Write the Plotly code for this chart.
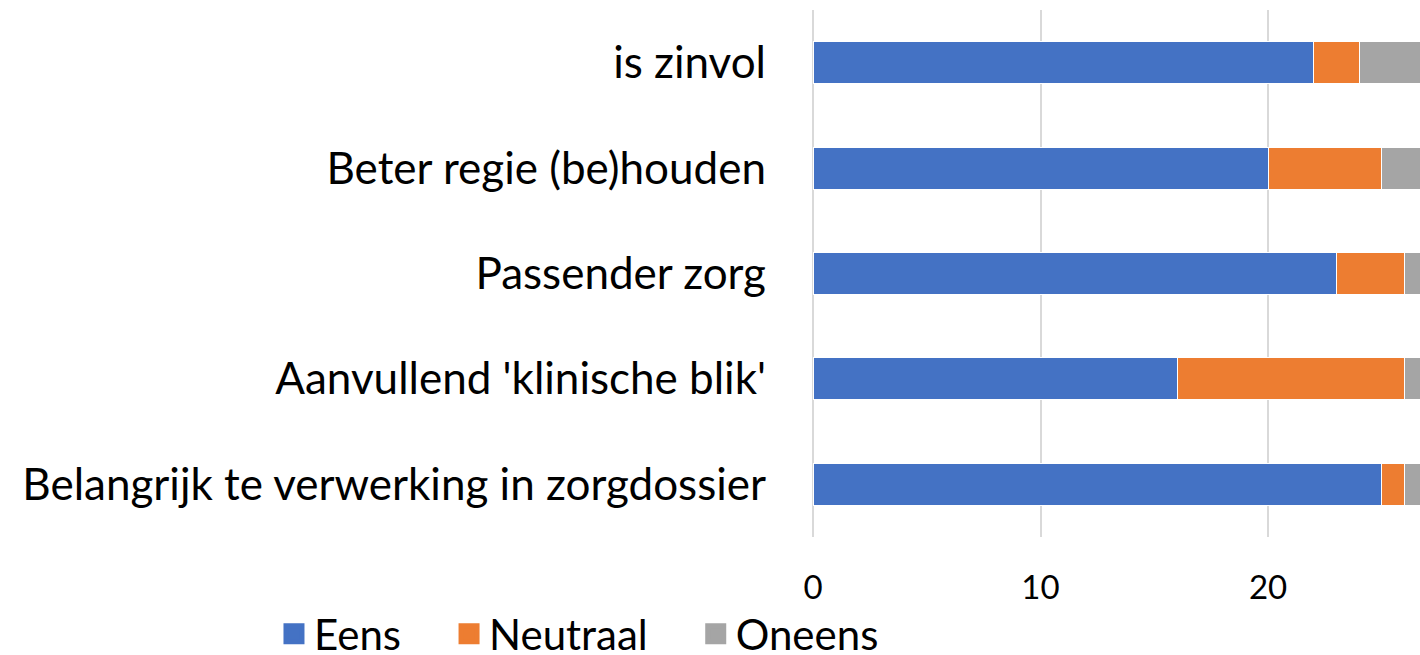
import plotly.graph_objects as go

categories = ["is zinvol", "Beter regie (be)houden", "Passender zorg",
              "Aanvullend 'klinische blik'", "Belangrijk te verwerking in zorgdossier"]
eens = [22, 20, 23, 16, 25]
neutraal = [2, 5, 3, 10, 1]
oneens = [3, 2, 1, 1, 1]
x_ticks = [0, 10, 20]
series = [("Eens", eens, "#4472C4"), ("Neutraal", neutraal, "#ED7D31"),
          ("Oneens", oneens, "#A5A5A5")]
legend_pad = {"Eens": 4, "Neutraal": 4, "Oneens": 0}

FONT = "Lato"
fig = go.Figure()
for name, vals, col in series:
    fig.add_trace(go.Bar(y=categories, x=vals, name=name, orientation="h", showlegend=False,
                         marker=dict(color=col, line=dict(color="white", width=1))))
# legend entries with larger square symbols
for name, vals, col in series:
    fig.add_trace(go.Scatter(x=[None], y=[None], mode="markers",
                             name=name + "\u00a0" * legend_pad[name],
                             marker=dict(symbol="square", size=16, color=col,
                                         line=dict(color=col, width=5))))

fig.update_layout(
    barmode="stack", bargap=0.6,
    width=1420, height=655,
    margin=dict(l=813, r=0, t=10, b=118, autoexpand=False),
    plot_bgcolor="white", paper_bgcolor="white",
    font=dict(family=FONT, size=44, color="black"),
    xaxis=dict(range=[0, 26.68], tickvals=x_ticks, showgrid=True, gridcolor="#D9D9D9",
               gridwidth=2, zeroline=True, zerolinecolor="#D9D9D9", zerolinewidth=2,
               ticklabelstandoff=28, tickfont=dict(size=33), automargin=False),
    yaxis=dict(autorange="reversed", ticklabelstandoff=46, showgrid=False, automargin=False),
    legend=dict(orientation="h", x=-0.888, y=-0.184, xanchor="left", yanchor="middle",
                font=dict(size=42), traceorder="normal", itemsizing="trace",
                bgcolor="rgba(0,0,0,0)"),
)
fig.write_html("out.html", config={"displayModeBar": False},
               post_script="document.body.style.margin='0';document.body.style.overflow='hidden';")
